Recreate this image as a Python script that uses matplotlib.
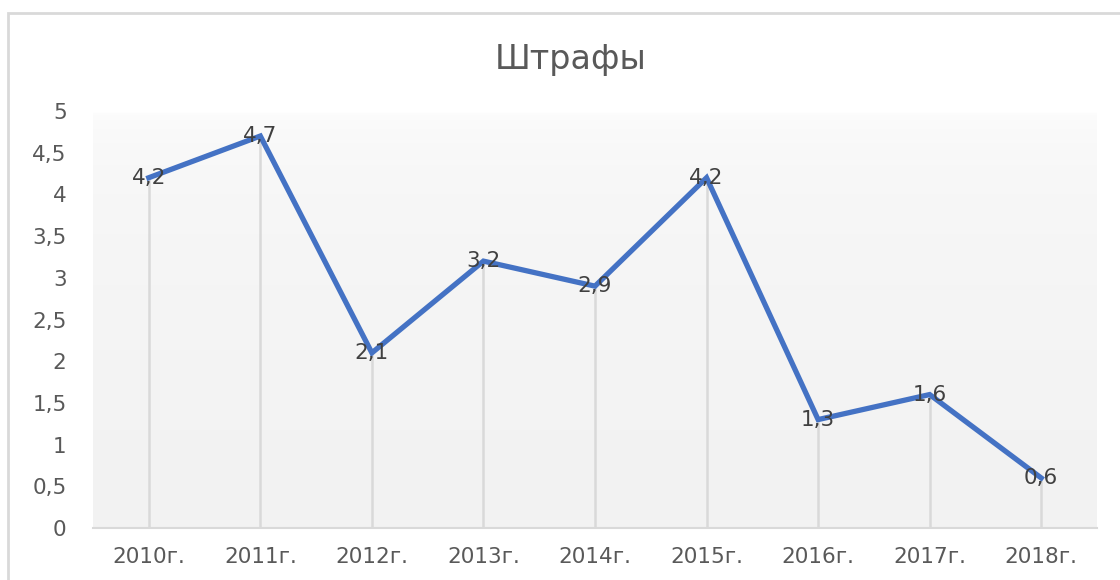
import numpy as np
import matplotlib.pyplot as plt
from matplotlib.patches import Rectangle
from matplotlib.ticker import FuncFormatter

years = ['2010г.', '2011г.', '2012г.', '2013г.', '2014г.', '2015г.', '2016г.', '2017г.', '2018г.']
fines = [4.2, 4.7, 2.1, 3.2, 2.9, 4.2, 1.3, 1.6, 0.6]

plt.rcParams['font.family'] = ['DejaVu Sans']

fig = plt.figure(figsize=(11.2, 5.8), dpi=100)
fig.patch.set_facecolor('white')
# chart border (Excel style), runs off the right and bottom edges
fig.patches.append(Rectangle((8 / 1120, -0.1), 1.2, 1 - 13 / 580 + 0.1,
                             transform=fig.transFigure, fill=False,
                             edgecolor='#d9d9d9', linewidth=2))

ax = fig.add_axes([93 / 1120, 52 / 580, 1004 / 1120, 417 / 580])
x = np.arange(len(years))

# gradient background of the plot area: white at top, light grey below
g = np.linspace(0, 1, 256) ** 0.3
shade = 1 - g * (1 - 0xf2 / 255)
cols = np.repeat(shade[::-1].reshape(-1, 1, 1), 3, axis=2)
ax.imshow(cols, extent=[-0.5, len(years) - 0.5, 0, 5], aspect='auto',
          origin='lower', zorder=0)

ax.vlines(x, 0, fines, color='#d9d9d9', linewidth=1.8, zorder=1)
ax.plot(x, fines, color='#4472c4', linewidth=3.8, solid_joinstyle='miter', zorder=2)
for xi, v in zip(x, fines):
    ax.text(xi, v, f'{v:g}'.replace('.', ','), ha='center', va='center',
            fontsize=15.5, color='#404040', zorder=3)

ax.set_xlim(-0.5, len(years) - 0.5)
ax.set_ylim(0, 5)
ax.set_xticks(x)
ax.set_xticklabels(years)
ax.set_yticks(np.arange(0, 5.01, 0.5))
ax.yaxis.set_major_formatter(FuncFormatter(lambda v, p: f'{v:g}'.replace('.', ',')))
ax.tick_params(length=0, labelsize=15.5, labelcolor='#595959')
ax.tick_params(axis='x', pad=14)
ax.tick_params(axis='y', pad=19)
for s in ['top', 'right', 'left']:
    ax.spines[s].set_visible(False)
ax.spines['bottom'].set_color('#d9d9d9')
ax.spines['bottom'].set_linewidth(1.5)

fig.text(571 / 1120, 1 - 59 / 580, 'Штрафы', ha='center', va='center',
         fontsize=24, color='#595959')

fig.savefig('out.png', dpi=100)
